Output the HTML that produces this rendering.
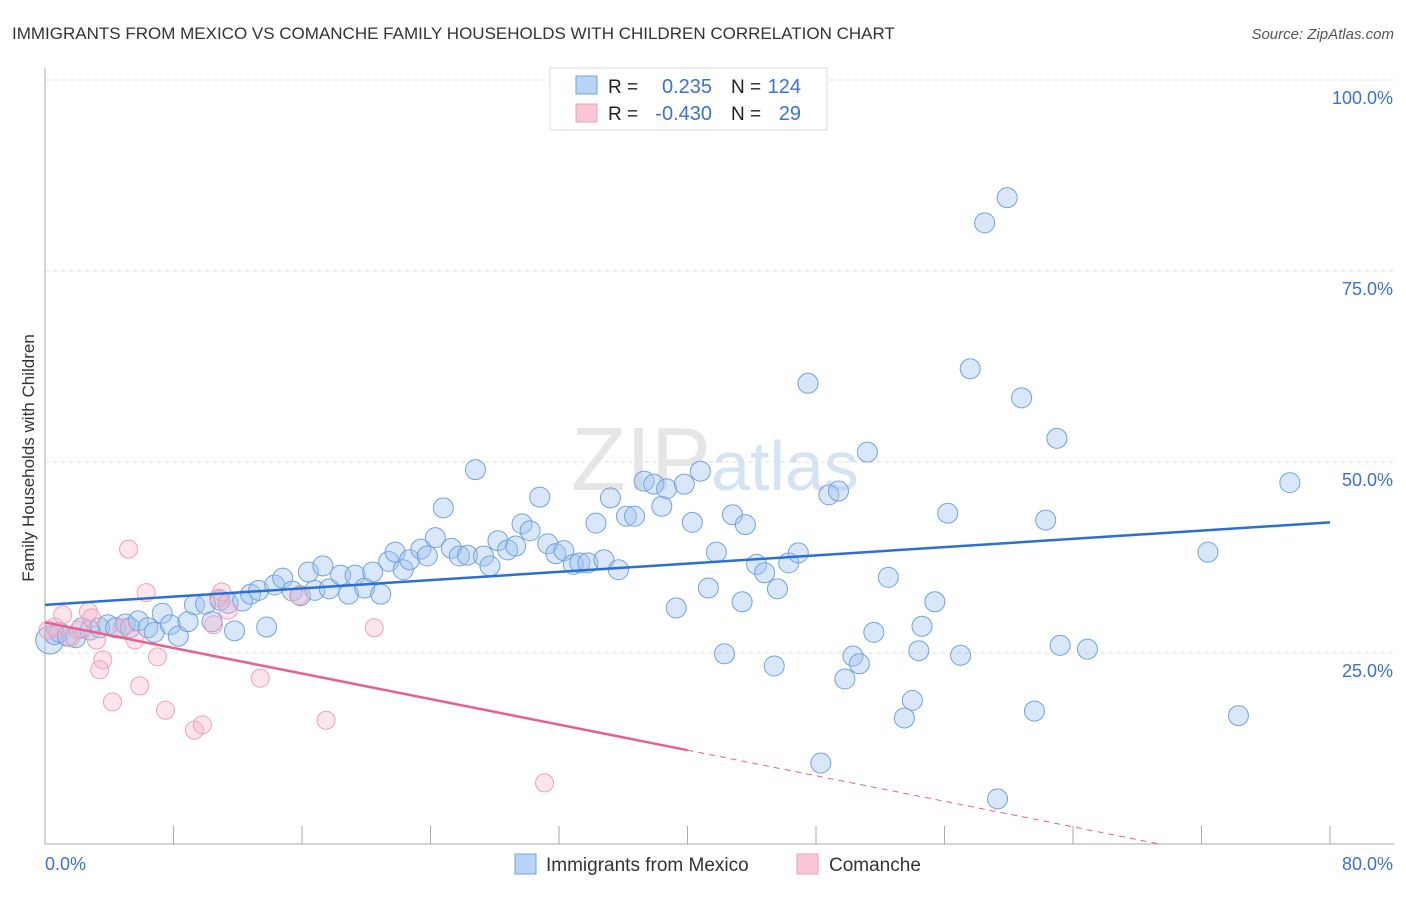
<!DOCTYPE html>
<html><head><meta charset="utf-8"><style>
body{margin:0;background:#fff;font-family:"Liberation Sans",sans-serif}
svg text{font-family:"Liberation Sans",sans-serif}
</style></head><body>
<svg id="c" width="1406" height="892">
<text x="12" y="39" font-size="17" fill="#333">IMMIGRANTS FROM MEXICO VS COMANCHE FAMILY HOUSEHOLDS WITH CHILDREN CORRELATION CHART</text>
<text x="1394" y="39" font-size="15" fill="#555" text-anchor="end" font-style="italic">Source: ZipAtlas.com</text>
<text x="34" y="458" font-size="17" fill="#333" text-anchor="middle" transform="rotate(-90 34 458)">Family Households with Children</text>
<g id="grid"></g>
<text x="715" y="490" font-size="90" fill="#e6e6e6" text-anchor="middle" font-family="Liberation Serif">ZIP<tspan fill="#d5e3f5" font-family="Liberation Sans" font-size="70">atlas</tspan></text>
<g id="pts"></g>
<g id="lines"></g>
<g>
<rect x="550" y="68" width="277" height="62" fill="#fff" stroke="#ddd"/>
<rect x="576" y="76" width="21" height="18" fill="#b8d3f5" stroke="#6fa3e0"/>
<rect x="576" y="104" width="21" height="18" fill="#f9c7d5" stroke="#f0a0b8"/>
<text x="608" y="93" font-size="19" fill="#222">R = </text><text x="712" y="93" font-size="20" fill="#3a72d0" text-anchor="end">0.235</text>
<text x="731" y="93" font-size="19" fill="#222">N = </text><text x="801" y="93" font-size="20" fill="#3a72d0" text-anchor="end">124</text>
<text x="608" y="120" font-size="19" fill="#222">R = </text><text x="712" y="120" font-size="20" fill="#3a72d0" text-anchor="end">-0.430</text>
<text x="731" y="120" font-size="19" fill="#222">N = </text><text x="801" y="120" font-size="20" fill="#3a72d0" text-anchor="end">29</text>
</g>
<g>
<rect x="515" y="854" width="21" height="20" fill="#b8d3f5" stroke="#6fa3e0"/>
<text x="546" y="871" font-size="19" fill="#333">Immigrants from Mexico</text>
<rect x="797" y="854" width="21" height="20" fill="#f9c7d5" stroke="#f0a0b8"/>
<text x="829" y="871" font-size="19" fill="#333">Comanche</text>
</g>
</svg>
<script>
const blueX=[0.3,0.6,0.9,1.4,1.9,2.3,2.8,3.4,3.9,4.4,5.0,5.3,5.8,6.4,6.8,7.3,7.8,8.3,8.9,9.3,10.0,10.4,10.9,11.4,11.8,12.3,12.8,13.3,13.8,14.3,14.8,15.4,15.9,16.4,16.8,17.3,17.7,18.4,18.9,19.3,19.9,20.4,20.9,21.4,21.8,22.3,22.7,23.4,23.8,24.3,24.8,25.3,25.8,26.3,26.8,27.3,27.7,28.2,28.8,29.3,29.7,30.2,30.8,31.3,31.8,32.3,32.9,33.3,33.8,34.3,34.8,35.2,35.7,36.2,36.7,37.3,37.9,38.4,38.7,39.3,39.8,40.3,40.8,41.3,41.8,42.3,42.8,43.4,43.6,44.3,44.8,45.4,45.6,46.3,46.9,47.5,48.3,48.8,49.4,49.8,50.3,50.7,51.2,51.6,52.5,53.5,54.0,54.4,54.6,55.4,56.2,57.0,57.6,58.5,59.3,59.9,60.8,61.6,62.3,63.0,63.2,64.9,72.4,74.3,77.5];
const blueY=[26.7,27.4,27.7,27.2,27.0,28.3,28.0,28.3,28.7,28.3,28.8,28.3,29.2,28.3,27.7,30.2,28.7,27.2,29.1,31.3,31.4,29.1,31.9,31.5,27.9,31.8,32.7,33.2,28.4,33.9,34.8,33.1,32.5,35.6,33.2,36.4,33.4,35.2,32.7,35.2,33.5,35.6,32.7,37.0,38.2,35.9,37.2,38.6,37.7,40.1,44.0,38.7,37.7,37.8,49.0,37.7,36.4,39.7,38.5,39.0,41.9,41.0,45.4,39.3,38.0,38.4,36.6,36.8,36.8,42.0,37.2,45.3,35.9,42.9,42.9,47.5,47.1,44.2,46.5,30.9,47.1,42.1,48.8,33.5,38.2,24.9,43.1,31.7,41.8,36.6,35.5,23.3,33.4,36.8,38.1,60.3,10.6,45.7,46.2,21.6,24.6,23.6,51.3,27.7,34.9,16.5,18.8,25.3,28.5,31.7,43.3,24.7,62.2,81.3,5.9,84.6,58.4,17.4,42.4,53.1,26.0,25.5,38.2,16.8,47.3];
const pinkX=[0.2,0.6,1.1,1.6,2.1,2.7,2.9,3.2,3.6,3.4,4.2,4.8,5.2,5.6,5.9,6.3,7.0,7.5,9.3,9.8,10.5,10.8,11.0,11.4,13.4,15.8,17.5,20.5,31.1];
const pinkY=[28.0,28.4,30.0,27.0,28.0,30.4,29.6,26.7,24.1,22.8,18.6,28.3,38.6,26.7,20.7,32.9,24.5,17.5,14.9,15.6,28.7,32.2,33.0,30.6,21.7,32.5,16.2,28.3,8.0];
const yTicks=[25,50,75,100];
const xTickVals=[0,8,16,24,32,40,48,56,64,72,80];
const blueTrend=[31.3,42.1];
const pinkTrend=[29.0,-0.418];
const NS='http://www.w3.org/2000/svg';
const sx=v=>45+v*16.0625, sy=v=>844-v*7.64;
function mk(t,a,p){const e=document.createElementNS(NS,t);for(const k in a)e.setAttribute(k,a[k]);p.appendChild(e);return e;}
const grid=document.getElementById('grid');
yTicks.forEach(v=>{
 const l=mk('line',{x1:45,x2:1394,y1:sy(v),y2:sy(v),stroke:'#ddd','stroke-dasharray':'4,4'},grid);
 
 
 const t=mk('text',{x:1393,y:sy(v)+24,'font-size':18,fill:'#3a72d0','text-anchor':'end'},grid);
 t.textContent=v.toFixed(1)+'%';
 
 
});
const ax=mk('line',{x1:45,x2:45,y1:68,y2:844,stroke:'#aaa'},grid);


const bx=mk('line',{x1:45,x2:1394,y1:844,y2:844,stroke:'#aaa'},grid);


xTickVals.forEach(v=>{const l=mk('line',{x1:sx(v),x2:sx(v),y1:826,y2:844,stroke:'#aaa'},grid);
 
 });
[[0,'start',45],[80,'end',1393]].forEach(([v,a,x])=>{const t=mk('text',{x:x,y:870,'font-size':18,fill:'#3a72d0','text-anchor':a},grid);t.textContent=v.toFixed(1)+'%';
 
 });
const pts=document.getElementById('pts');
blueX.forEach((x,i)=>{const c=mk('circle',{cx:sx(x),cy:sy(blueY[i]),r:i==0?14:10,fill:'rgba(160,196,240,0.4)',stroke:'#6fa3e0','stroke-width':1},pts);
 
 });
pinkX.forEach((x,i)=>{const c=mk('circle',{cx:sx(x),cy:sy(pinkY[i]),r:9,fill:'rgba(248,180,200,0.35)',stroke:'#f0a0b8','stroke-width':1},pts);
 
 });
const lines=document.getElementById('lines');
const bl=mk('line',{x1:sx(0),y1:sy(blueTrend[0]),x2:sx(80),y2:sy(blueTrend[1]),stroke:'#2a6fd6','stroke-width':2.5},lines);


const pf=x=>pinkTrend[0]+pinkTrend[1]*x, x0=-pinkTrend[0]/pinkTrend[1];
const pl=mk('line',{x1:sx(0),y1:sy(pf(0)),x2:sx(40),y2:sy(pf(40)),stroke:'#e8608e','stroke-width':2.5},lines);


const pd=mk('line',{x1:sx(40),y1:sy(pf(40)),x2:sx(x0),y2:sy(0),stroke:'#e8608e','stroke-width':1,'stroke-dasharray':'6,5'},lines);


</script>
</body></html>
